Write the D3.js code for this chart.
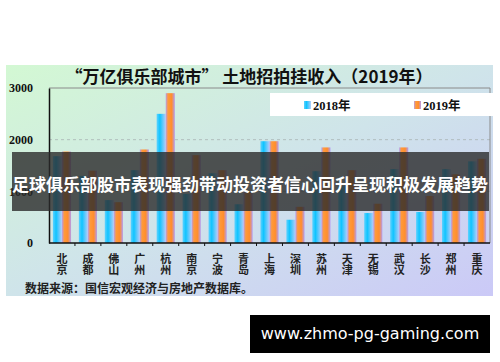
<!DOCTYPE html>
<html>
<head>
<meta charset="utf-8">
<script src="https://cdn.jsdelivr.net/npm/d3@7/dist/d3.min.js"></script>
<style>
  body { margin: 0; background: #fff; }
  svg { display: block; }
</style>
</head>
<body>
<svg id="chart"></svg>
<script>
const cities = ["北京", "成都", "佛山", "广州", "杭州", "南京", "宁波", "青岛", "上海",
  "深圳", "苏州", "天津", "无锡", "武汉", "长沙", "郑州", "重庆"]
const v2018 = [1680, 1300, 830, 1410, 2500, 950, 1350, 750, 1970, 450, 1390, 1100, 580, 1430, 600, 1430, 1580]
const v2019 = [1770, 1400, 790, 1810, 2900, 1700, 1410, 1000, 1970, 700, 1850, 1410, 760, 1850, 910, 1330, 1630]
const series = ["2018年", "2019年"]
const yTicks = [0, 1000, 2000, 3000]

const width = 500, height = 362
const plot = {left: 49, right: 490, top: 88, bottom: 243}

const svg = d3.select("#chart").attr("width", width).attr("height", height)
const defs = svg.append("defs")

const bgGrad = defs.append("linearGradient").attr("id", "bg")
  .attr("x1", "0%").attr("y1", "0%").attr("x2", "100%").attr("y2", "100%")
bgGrad.append("stop").attr("offset", "0%").attr("stop-color", "#d3f8d3")
bgGrad.append("stop").attr("offset", "50%").attr("stop-color", "#cfe4ea")
bgGrad.append("stop").attr("offset", "100%").attr("stop-color", "#cbc9f7")

const g18 = defs.append("linearGradient").attr("id", "g18")
g18.append("stop").attr("offset", "0%").attr("stop-color", "#5fd2ff")
g18.append("stop").attr("offset", "35%").attr("stop-color", "#0fc4ff")
g18.append("stop").attr("offset", "100%").attr("stop-color", "#b4cdfa")

const g19 = defs.append("linearGradient").attr("id", "g19")
g19.append("stop").attr("offset", "0%").attr("stop-color", "#b49cee")
g19.append("stop").attr("offset", "25%").attr("stop-color", "#ff9a3a")
g19.append("stop").attr("offset", "65%").attr("stop-color", "#ff8e2e")
g19.append("stop").attr("offset", "100%").attr("stop-color", "#b39bf0")

// chart background
svg.append("rect").attr("x", 6).attr("y", 65).attr("width", 487).attr("height", 231)
  .attr("fill", "url(#bg)")

svg.append("text")
  .attr("x", 249).attr("y", 83)
  .attr("text-anchor", "middle")
  .style("font-family", "'Noto Sans CJK SC', sans-serif")
  .style("font-weight", 700).style("font-size", "17px")
  .attr("fill", "#111")
  .text("“万亿俱乐部城市” 土地招拍挂收入（2019年）")

const x = d3.scaleBand().domain(cities).range([plot.left, plot.right])
  .paddingInner(0.3).paddingOuter(0.15)
const xs = d3.scaleBand().domain(series).range([0, x.bandwidth()])
const y = d3.scaleLinear().domain([0, 3000]).range([plot.bottom, plot.top])

// grid
svg.append("g").selectAll("line").data(yTicks.filter(d => d > 0 && d < 3000))
  .enter().append("line")
  .attr("x1", plot.left).attr("x2", plot.right)
  .attr("y1", d => y(d)).attr("y2", d => y(d))
  .attr("stroke", "#a9b4b4").attr("stroke-dasharray", "3,3").attr("stroke-width", 0.8)

// plot frame (top and right light)
svg.append("path")
  .attr("d", `M${plot.left},${plot.top}H${plot.right}V${plot.bottom}`)
  .attr("fill", "none").attr("stroke", "#8a8a8a").attr("stroke-width", 1)

const rows = cities.map((c, i) => ({city: c, vals: [v2018[i], v2019[i]]}))

const group = svg.append("g").selectAll("g").data(rows).enter().append("g")
  .attr("transform", d => `translate(${x(d.city)},0)`)
group.selectAll("rect").data(d => d.vals.map((v, k) => ({s: series[k], v})))
  .enter().append("rect")
  .attr("x", d => xs(d.s))
  .attr("width", xs.bandwidth())
  .attr("y", d => y(d.v))
  .attr("height", d => y(0) - y(d.v))
  .attr("fill", d => d.s === "2018年" ? "url(#g18)" : "url(#g19)")

// axes
const yAxis = svg.append("g").attr("transform", `translate(${plot.left},0)`)
  .call(d3.axisLeft(y).tickValues(yTicks).tickFormat(d3.format("d")).tickSize(0).tickPadding(16))
yAxis.select(".domain").attr("stroke", "#111").attr("stroke-width", 1.5)
yAxis.selectAll("text")
  .style("font-family", "'Liberation Serif', serif")
  .style("font-weight", 700).style("font-size", "12px").attr("fill", "#111")

svg.append("line").attr("x1", plot.left).attr("x2", plot.right)
  .attr("y1", plot.bottom).attr("y2", plot.bottom)
  .attr("stroke", "#111").attr("stroke-width", 1.5)

const bounds = cities.map(c => x(c) - x.step() * x.paddingInner() / 2).slice(1)
svg.append("g").selectAll("line").data(bounds).enter().append("line")
  .attr("x1", d => d).attr("x2", d => d)
  .attr("y1", plot.bottom).attr("y2", plot.bottom + 3)
  .attr("stroke", "#111").attr("stroke-width", 1)

// vertical city labels
svg.append("g").selectAll("text").data(cities).enter().append("text")
  .attr("x", d => x(d) + x.bandwidth() / 2)
  .attr("y", 253)
  .style("writing-mode", "vertical-rl")
  .style("font-family", "'Noto Sans CJK SC', sans-serif")
  .style("font-weight", 700).style("font-size", "11px").attr("fill", "#222")
  .text(d => d)

// legend
svg.append("rect").attr("x", 270).attr("y", 93).attr("width", 223).attr("height", 23).attr("fill", "#fff")
const leg = svg.append("g").selectAll("g").data(series).enter().append("g")
  .attr("transform", (d, i) => `translate(${304 + i * 110},101)`)
leg.append("rect").attr("width", 7).attr("height", 8)
  .attr("fill", d => d === "2018年" ? "url(#g18)" : "url(#g19)")
leg.append("text").attr("x", 9).attr("y", 8.5)
  .style("font-family", "'Liberation Serif', 'Noto Sans CJK SC', serif")
  .style("font-weight", 700).style("font-size", "12.5px").attr("fill", "#111")
  .text(d => d)

svg.append("text").attr("x", 25).attr("y", 293)
  .style("font-family", "'Noto Sans CJK SC', sans-serif")
  .style("font-weight", 700).style("font-size", "12px").attr("fill", "#222")
  .text("数据来源：国信宏观经济与房地产数据库。")

// overlay banner
svg.append("rect").attr("x", 12).attr("y", 152).attr("width", 477).attr("height", 59)
  .attr("fill", "rgba(42,42,42,0.8)")
svg.append("text").attr("x", 250).attr("y", 191).attr("text-anchor", "middle")
  .style("font-family", "'Noto Sans CJK SC', sans-serif")
  .style("font-weight", 700).style("font-size", "17px").attr("fill", "#fff")
  .text("足球俱乐部股市表现强劲带动投资者信心回升呈现积极发展趋势")

svg.append("rect").attr("x", 250).attr("y", 315).attr("width", 240).attr("height", 38).attr("fill", "#000")
svg.append("text").attr("x", 370).attr("y", 339).attr("text-anchor", "middle")
  .style("font-family", "'DejaVu Sans', sans-serif")
  .style("font-size", "16px").attr("fill", "#fff")
  .text("www.zhmo-pg-gaming.com")
</script>
</body>
</html>
